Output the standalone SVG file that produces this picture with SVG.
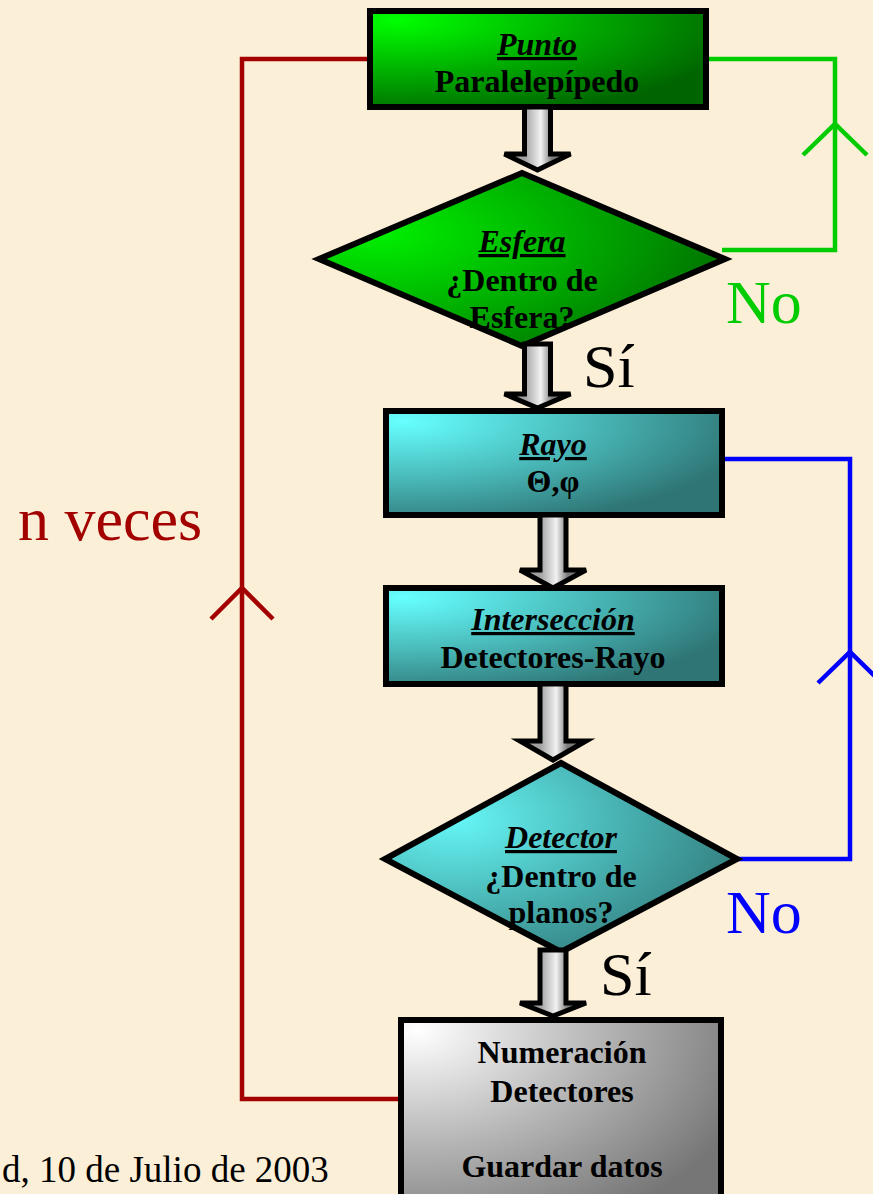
<svg xmlns="http://www.w3.org/2000/svg" width="873" height="1194" viewBox="0 0 873 1194">
<defs>
<radialGradient id="gGreen" cx="0.08" cy="0.1" r="1.05">
<stop offset="0" stop-color="#00ff00"/>
<stop offset="0.55" stop-color="#00a800"/>
<stop offset="1" stop-color="#006400"/>
</radialGradient>
<radialGradient id="gGreenD" cx="0.15" cy="0.35" r="0.95">
<stop offset="0" stop-color="#00f000"/>
<stop offset="0.6" stop-color="#00a000"/>
<stop offset="1" stop-color="#006600"/>
</radialGradient>
<radialGradient id="gCyan" cx="0.05" cy="0.1" r="1.05">
<stop offset="0" stop-color="#66ffff"/>
<stop offset="0.5" stop-color="#4bbcbc"/>
<stop offset="1" stop-color="#2f7575"/>
</radialGradient>
<radialGradient id="gCyanD" cx="0.2" cy="0.3" r="0.95">
<stop offset="0" stop-color="#66f6f6"/>
<stop offset="0.55" stop-color="#45aaaa"/>
<stop offset="1" stop-color="#2f7272"/>
</radialGradient>
<radialGradient id="gGray" cx="0.05" cy="0.05" r="1.1">
<stop offset="0" stop-color="#ffffff"/>
<stop offset="0.5" stop-color="#b8b8b8"/>
<stop offset="1" stop-color="#767676"/>
</radialGradient>
<linearGradient id="gArrow" x1="0" y1="0" x2="1" y2="0">
<stop offset="0.3" stop-color="#a0a0a0"/>
<stop offset="0.55" stop-color="#f2f2f2"/>
<stop offset="0.72" stop-color="#7c7c7c"/>
</linearGradient>
</defs>
<style>
.node{stroke:#000;stroke-width:6;stroke-linejoin:miter}
.t{font-family:"Liberation Serif","Times New Roman",serif;font-weight:bold;font-size:32px;fill:#000;text-anchor:middle}
.h{font-style:italic;text-decoration:underline}
.arrow{stroke:#000;stroke-width:5;fill:url(#gArrow);stroke-linejoin:miter}
.loop{fill:none;stroke-width:4.5;stroke-linejoin:miter;stroke-linecap:butt}
.big{font-family:"Liberation Serif","Times New Roman",serif;font-size:62px}
</style>
<rect x="0" y="0" width="873" height="1194" fill="#fcefd7"/>

<g id="connectors">
<polyline class="loop" stroke="#a30000" points="367,59 242,59 242,1099 400,1099"/>
<polyline class="loop" stroke="#a30000" points="211,619 242,588 273,619"/>
<polyline class="loop" stroke="#00cc00" points="706,59 835,59 835,250 722,250"/>
<polyline class="loop" stroke="#00cc00" points="803,155 835,124 867,155"/>
<polyline class="loop" stroke="#0000ff" points="722,459 850,459 850,859 737,859"/>
<polyline class="loop" stroke="#0000ff" points="818,683 850,652 882,683"/>
</g>

<g id="node-punto">
<rect class="node" x="370" y="11" width="336" height="96" fill="url(#gGreen)"/>
<text class="t h" x="537" y="55">Punto</text>
<text class="t" x="537" y="92">Paralelepípedo</text>
</g>

<g id="node-esfera">
<polygon class="node" points="522,173 725,259 522,346 319,259" fill="url(#gGreenD)"/>
<text class="t h" x="522" y="252">Esfera</text>
<text class="t" x="522" y="291">¿Dentro de</text>
<text class="t" x="522" y="328">Esfera?</text>
</g>

<g id="node-rayo">
<rect class="node" x="386" y="411" width="336" height="104" fill="url(#gCyan)"/>
<text class="t h" x="553" y="455">Rayo</text>
<text class="t" x="553" y="492">Θ,φ</text>
</g>

<g id="node-interseccion">
<rect class="node" x="386" y="588" width="336" height="96" fill="url(#gCyan)"/>
<text class="t h" x="553" y="630">Intersección</text>
<text class="t" x="553" y="668">Detectores-Rayo</text>
</g>

<g id="node-detector">
<polygon class="node" points="561,763 737,859 561,952 385,859" fill="url(#gCyanD)"/>
<text class="t h" x="561" y="848">Detector</text>
<text class="t" x="561" y="887">¿Dentro de</text>
<text class="t" x="561" y="923">planos?</text>
</g>

<g id="node-guardar">
<rect class="node" x="401" y="1020" width="320" height="200" fill="url(#gGray)"/>
<text class="t" x="562" y="1063">Numeración</text>
<text class="t" x="562" y="1102">Detectores</text>
<text class="t" x="562" y="1177">Guardar datos</text>
</g>

<g id="arrows">
<polygon class="arrow" points="524.5,107 550.5,107 550.5,154 570.5,154 537.5,170 504.5,154 524.5,154"/>
<polygon class="arrow" points="524.5,344 550.5,344 550.5,394 570.5,394 537.5,408 504.5,394 524.5,394"/>
<polygon class="arrow" points="540,515 566,515 566,570 586,570 553,588 520,570 540,570"/>
<polygon class="arrow" points="540,684 566,684 566,741 586,741 553,760 520,741 540,741"/>
<polygon class="arrow" points="540,950 566,950 566,1003 586,1003 553,1016 520,1003 540,1003"/>
</g>

<g id="labels">
<text class="big" x="583" y="387" fill="#000">Sí</text>
<text class="big" x="600" y="995" fill="#000">Sí</text>
<text class="big" x="726" y="323" fill="#00cc00">No</text>
<text class="big" x="726" y="933" fill="#0000ff">No</text>
<text class="big" x="18" y="540" fill="#a30000" font-size="64">n veces</text>
<text x="2" y="1182" font-family="'Liberation Serif','Times New Roman',serif" font-size="37" fill="#000">d, 10 de Julio de 2003</text>
</g>
</svg>
